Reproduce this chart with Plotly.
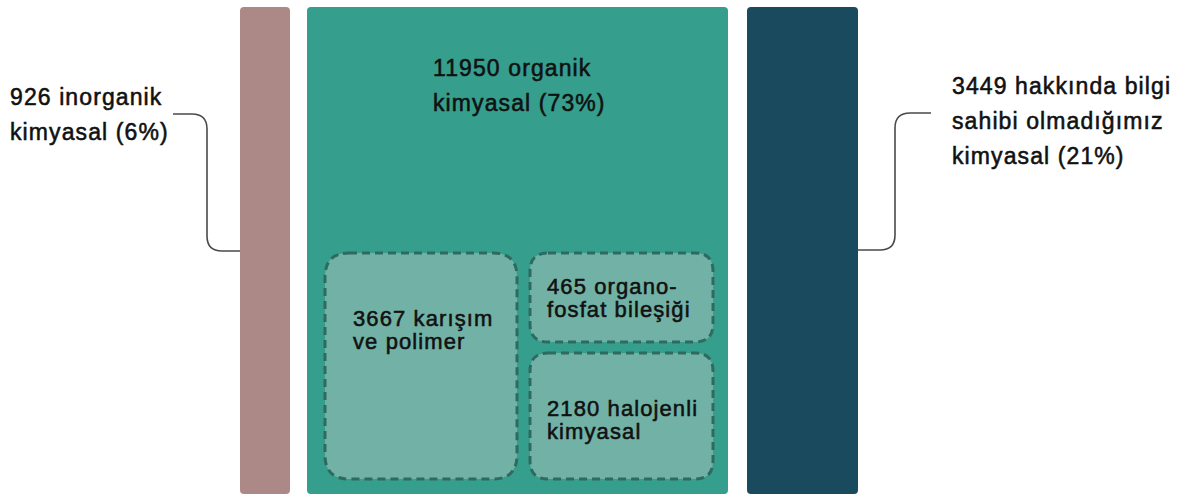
import plotly.graph_objects as go

# ---------------- data ----------------
main_values = [926, 11950, 3449]
main_shares = [6, 73, 21]
main_label_lines = [
    ["{v} inorganik", "kimyasal ({p}%)"],
    ["{v} organik", "kimyasal ({p}%)"],
    ["{v} hakkında bilgi", "sahibi olmadığımız", "kimyasal ({p}%)"],
]
sub_values = [3667, 465, 2180]
sub_label_lines = [
    ["{v} karışım", "ve polimer"],
    ["{v} organo-", "fosfat bileşiği"],
    ["{v} halojenli", "kimyasal"],
]

# ---------------- layout / style ----------------
W, H = 1185, 495
main_x = [(240, 290), (307, 728), (747, 858)]
main_y = (7, 494)
main_colors = ["#ac8987", "#359e8c", "#1a4a5e"]
main_radius = 4
sub_boxes = [(325, 253, 517, 479, 24), (530, 253, 713, 342, 18), (530, 353, 713, 479, 18)]
sub_fill = "#72b1a5"
sub_line = "#2f6a60"

label_pos = [(8, 97), (431, 68), (950, 86)]
label_pitch = 35
sub_label_pos = [(351, 318), (545, 286), (545, 408)]
sub_pitch = 23.5
FONT = "Liberation Sans, Arial, sans-serif"
LS = "letter-spacing:1.1px;stroke:#111111;stroke-width:0.55px"


def rrect(x0, y0, x1, y1, r):
    return (f"M{x0+r},{y0} L{x1-r},{y0} Q{x1},{y0} {x1},{y0+r} "
            f"L{x1},{y1-r} Q{x1},{y1} {x1-r},{y1} L{x0+r},{y1} "
            f"Q{x0},{y1} {x0},{y1-r} L{x0},{y0+r} Q{x0},{y0} {x0+r},{y0} Z")


shapes = []
for (x0, x1), c in zip(main_x, main_colors):
    shapes.append(dict(type="path", xref="x", yref="y", path=rrect(x0, main_y[0], x1, main_y[1], main_radius),
                       fillcolor=c, line=dict(width=0), layer="below"))
for (x0, y0, x1, y1, r) in sub_boxes:
    shapes.append(dict(type="path", xref="x", yref="y", path=rrect(x0, y0, x1, y1, r),
                       fillcolor=sub_fill, line=dict(color=sub_line, width=3, dash="8px,5px"), layer="above"))

# connectors
conn = "#4a4a4a"
shapes.append(dict(type="path", xref="x", yref="y",
                   path="M173,114 L192,114 Q207,114 207,129 L207,236 Q207,251 222,251 L240,251",
                   line=dict(color=conn, width=1.6)))
shapes.append(dict(type="path", xref="x", yref="y",
                   path="M931,113 L910,113 Q895,113 895,128 L895,235 Q895,250 880,250 L858,250",
                   line=dict(color=conn, width=1.6)))

annotations = []
for lines, v, p, (x, y) in zip(main_label_lines, main_values, main_shares, label_pos):
    for i, ln in enumerate(lines):
        annotations.append(dict(x=x, y=y + i * label_pitch, xref="x", yref="y", xanchor="left", yanchor="middle",
                                text=f'<span style="{LS}">{ln.format(v=v, p=p)}</span>', showarrow=False,
                                font=dict(family=FONT, size=23, color="#111111")))
for lines, v, (x, y) in zip(sub_label_lines, sub_values, sub_label_pos):
    for i, ln in enumerate(lines):
        annotations.append(dict(x=x, y=y + i * sub_pitch, xref="x", yref="y", xanchor="left", yanchor="middle",
                                text=f'<span style="{LS}">{ln.format(v=v)}</span>', showarrow=False,
                                font=dict(family=FONT, size=22, color="#111111")))

fig = go.Figure()
fig.add_trace(go.Scatter(x=[0], y=[0], mode="markers", marker=dict(opacity=0), hoverinfo="skip", showlegend=False))
fig.update_layout(
    width=W, height=H, margin=dict(l=0, r=0, t=0, b=0),
    paper_bgcolor="white", plot_bgcolor="white",
    xaxis=dict(range=[0, W], visible=False, fixedrange=True),
    yaxis=dict(range=[H, 0], visible=False, fixedrange=True),
    shapes=shapes, annotations=annotations, showlegend=False,
)
fig.write_html("out.html")
